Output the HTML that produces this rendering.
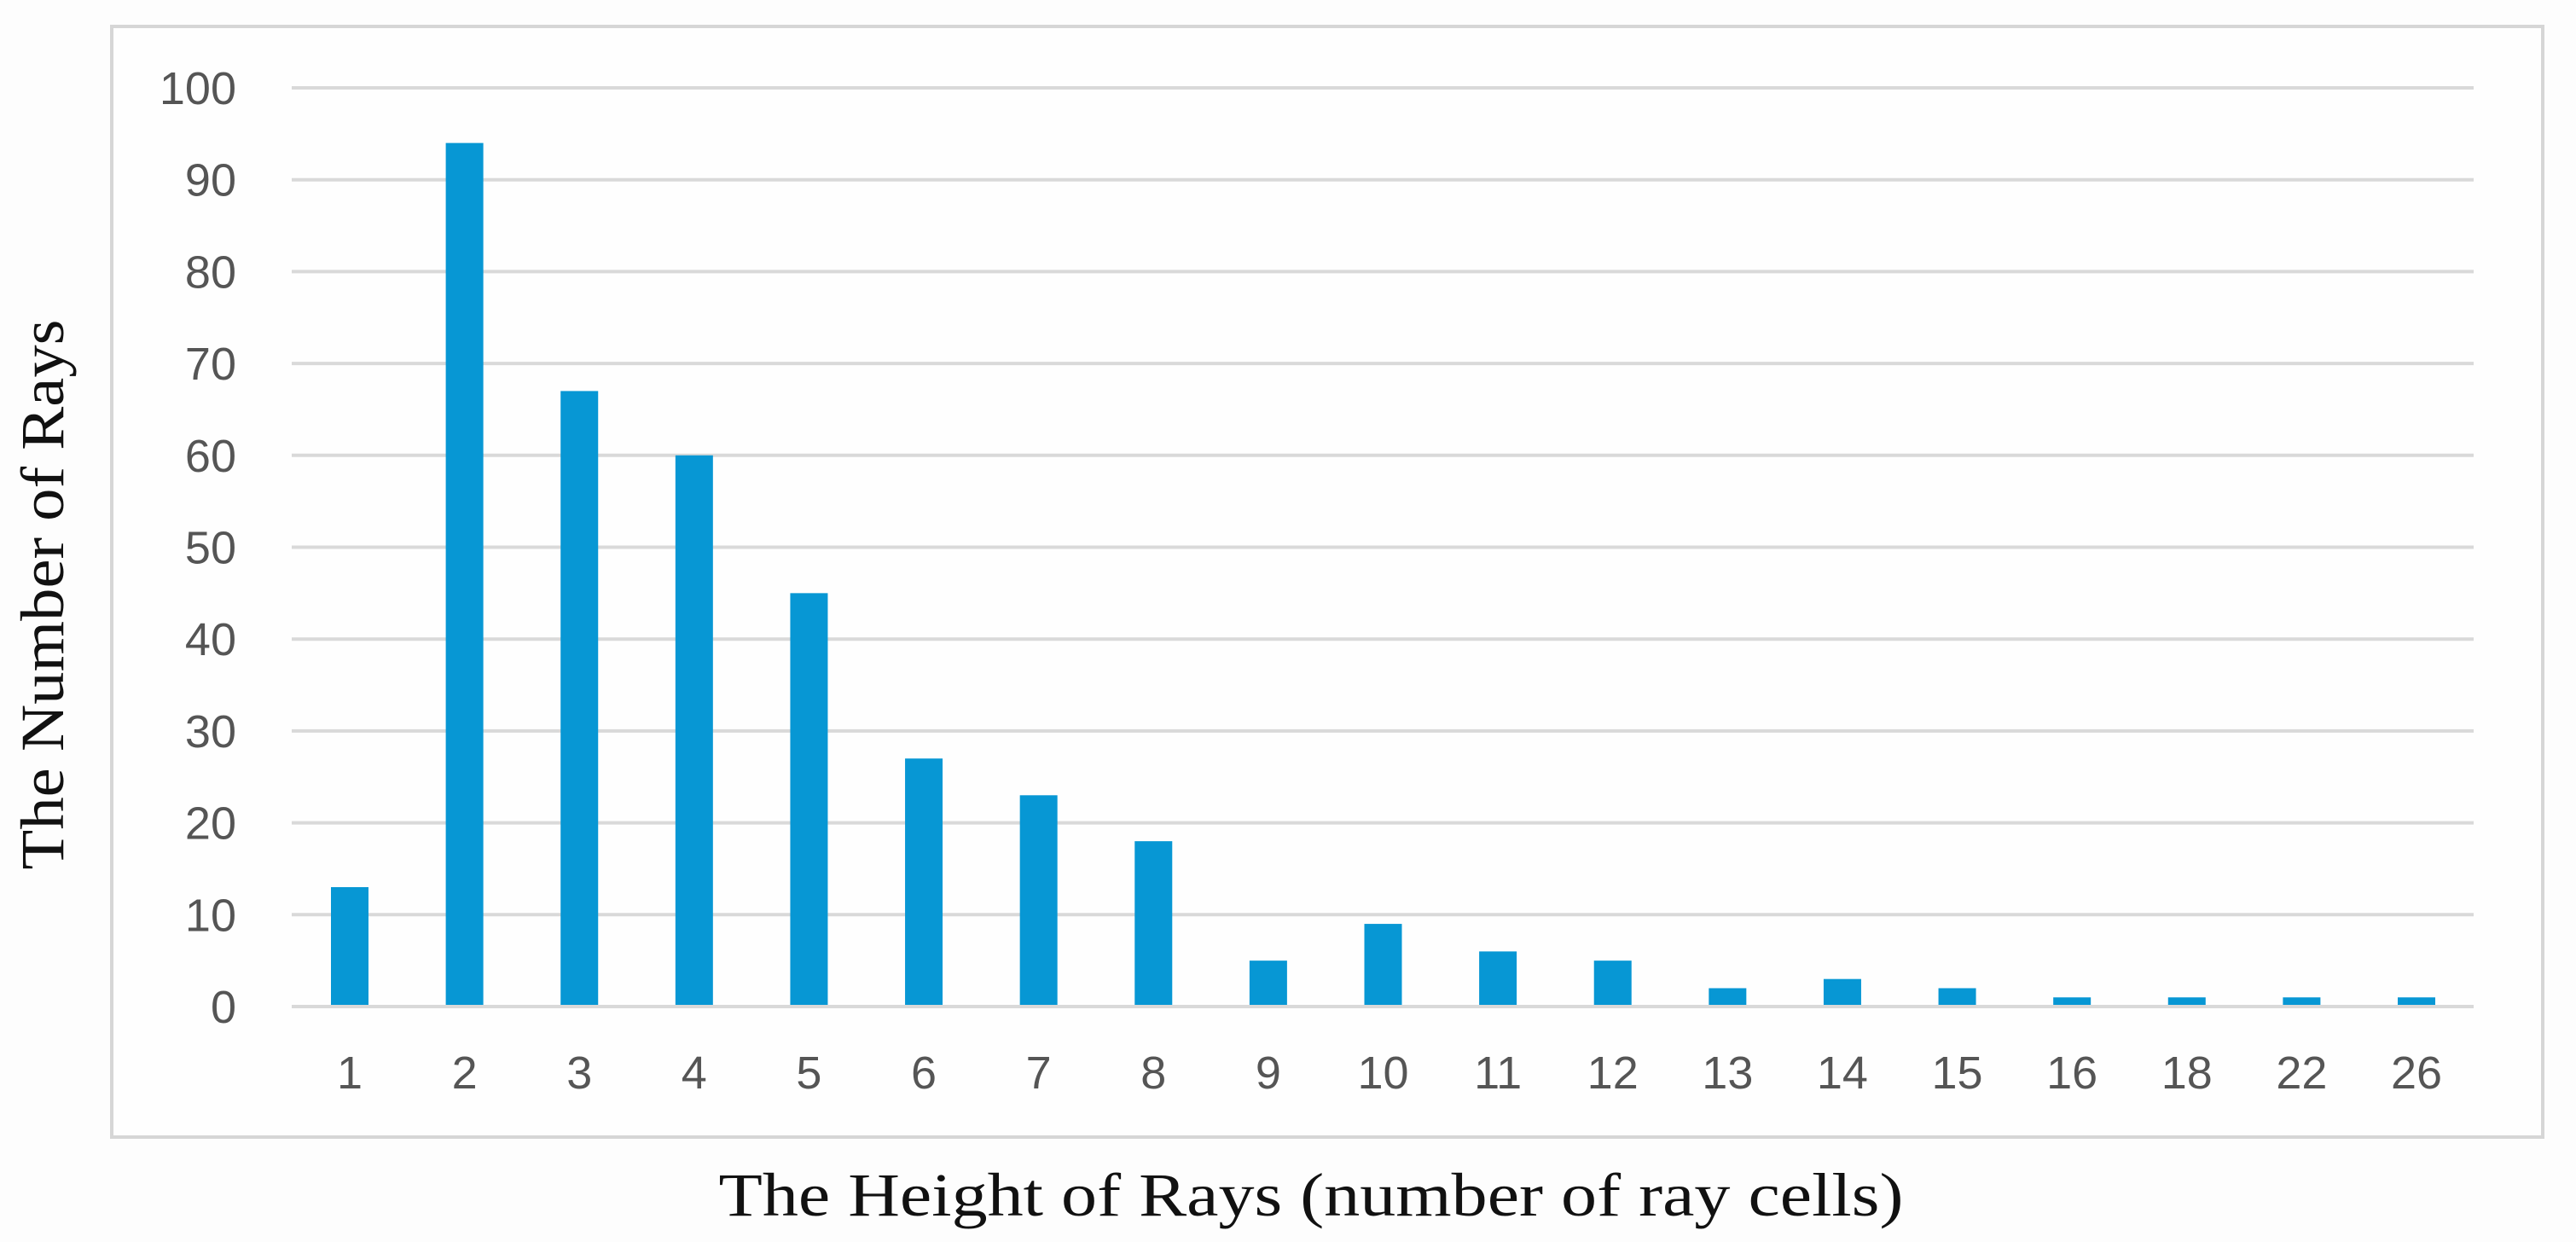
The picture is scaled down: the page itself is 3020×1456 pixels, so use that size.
<!DOCTYPE html>
<html><head><meta charset="utf-8"><style>
html,body{margin:0;padding:0;background:#fdfdfd;}
svg{display:block;}
</style></head><body>
<svg id="chart" width="3020" height="1456" viewBox="0 0 3020 1456" xmlns="http://www.w3.org/2000/svg">
<rect x="0" y="0" width="3020" height="1456" fill="#fdfdfd"/>
<rect x="131" y="31" width="2850" height="1302" fill="#fefefe" stroke="#d6d6d6" stroke-width="4"/>
<g id="grid"></g>
<g id="bars"></g>
<g id="ylabels"></g>
<g id="xlabels"></g>
<text x="1537" y="1425" text-anchor="middle" font-family="Liberation Serif, serif" font-size="72" fill="#111" textLength="1389" lengthAdjust="spacingAndGlyphs">The Height of Rays (number of ray cells)</text>
<text transform="translate(74,697) rotate(-90)" text-anchor="middle" font-family="Liberation Serif, serif" font-size="72" fill="#111" textLength="645" lengthAdjust="spacingAndGlyphs">The Number of Rays</text>
</svg>
<script>
const categories = ["1","2","3","4","5","6","7","8","9","10","11","12","13","14","15","16","18","22","26"];
const counts = [13,94,67,60,45,27,23,18,5,9,6,5,2,3,2,1,1,1,1];
const yTicks = [0,10,20,30,40,50,60,70,80,90,100];

const NS = "http://www.w3.org/2000/svg";
const plotLeft = 342, plotRight = 2900, y0 = 1180, y100 = 103;
const firstX = 410, lastX = 2833, barW = 44;
function yScale(v){ return y0 - (v/100)*(y0 - y100); }
function xScale(i){ return firstX + i*(lastX-firstX)/(categories.length-1); }
function mk(tag, attrs){ const e=document.createElementNS(NS,tag); for(const k in attrs) e.setAttribute(k,attrs[k]); return e; }

const grid=document.getElementById('grid'), ylab=document.getElementById('ylabels');
yTicks.forEach(t=>{
  const l=mk('line',{x1:plotLeft,x2:plotRight,y1:yScale(t),y2:yScale(t),stroke:'#d9d9d9','stroke-width':4});
  
  
  grid.appendChild(l);
  const tx=mk('text',{x:277,y:yScale(t)+19,'text-anchor':'end','font-family':'Liberation Sans, sans-serif','font-size':54,fill:'#555'});
  tx.textContent=t;
  
  
  ylab.appendChild(tx);
});
const bars=document.getElementById('bars'), xlab=document.getElementById('xlabels');
categories.forEach((c,i)=>{
  const cx=xScale(i);
  const r=mk('rect',{x:cx-barW/2,y:yScale(counts[i]),width:barW,height:y0-2-yScale(counts[i]),fill:'#0797d4'});
  
  
  bars.appendChild(r);
  const tx=mk('text',{x:cx,y:1276,'text-anchor':'middle','font-family':'Liberation Sans, sans-serif','font-size':54,fill:'#555'});
  tx.textContent=c;
  
  
  xlab.appendChild(tx);
});
</script>
</body></html>
